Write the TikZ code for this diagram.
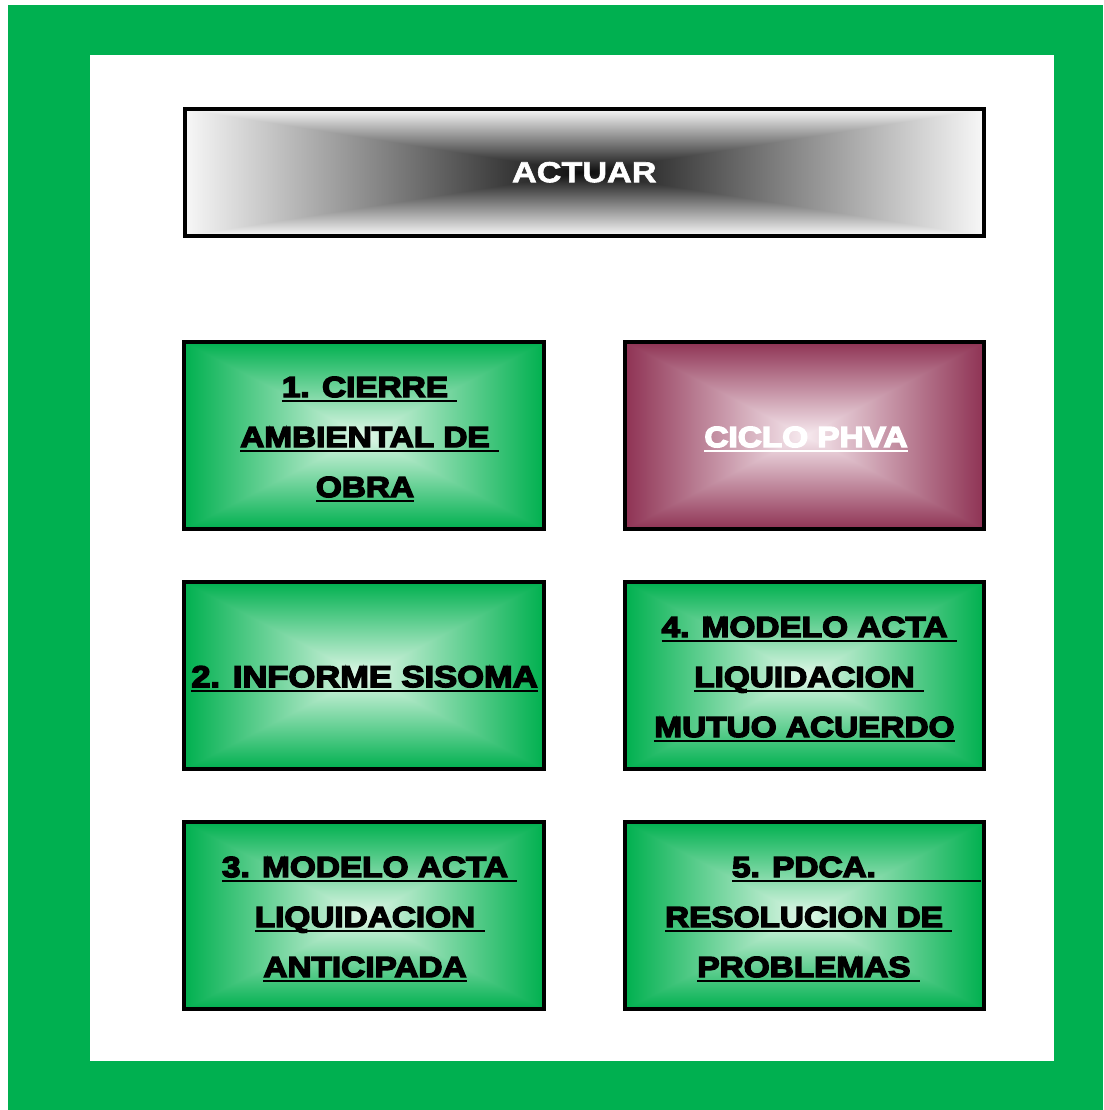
\documentclass[tikz,border=0pt]{standalone}
\usepackage{fontspec}
\newfontfamily\hfont[FakeStretch=1.18,FakeBold=2]{Liberation Sans Bold}
\newfontfamily\hbfont[FakeStretch=1.15,FakeBold=5]{Liberation Sans Bold}
\definecolor{framegreen}{RGB}{0,176,80}
\pgfdeclarefunctionalshading{greenrect}{\pgfpoint{-50bp}{-50bp}}{\pgfpoint{50bp}{50bp}}{}{
  abs exch abs 2 copy lt {exch} if pop 25 div dup 1 gt {pop 1} if
  dup -0.88 mul 0.88 add exch
  dup -0.28 mul 0.97 add exch
  -0.60 mul 0.91 add
}
\pgfdeclarefunctionalshading{maroonrect}{\pgfpoint{-50bp}{-50bp}}{\pgfpoint{50bp}{50bp}}{}{
  abs exch abs 2 copy lt {exch} if pop 25 div dup 1 gt {pop 1} if
  dup -0.41 mul 0.97 add exch
  dup -0.72 mul 0.92 add exch
  -0.61 mul 0.94 add
}
\pgfdeclarefunctionalshading{grayrect}{\pgfpoint{-50bp}{-50bp}}{\pgfpoint{50bp}{50bp}}{}{
  abs exch abs 2 copy lt {exch} if pop 25 div dup 1 gt {pop 1} if
  dup 0.92 mul 0.05 add exch
  dup 0.92 mul 0.05 add exch
  0.92 mul 0.05 add
}
\newcommand\ulin[2][0pt]{\setbox0\hbox{#2}\rlap{\rule[-5pt]{\dimexpr\wd0+#1\relax}{2pt}}\box0}
\newcommand\ulsp[1]{\ulin[\fontdimen2\font]{#1}}
\begin{document}
\begin{tikzpicture}[x=1pt,y=-1pt,
  box/.style={draw=black, line width=4pt, inner sep=0pt, minimum width=360pt, minimum height=187pt, shade},
  gbox/.style={box, shading=greenrect},
  mbox/.style={box, shading=maroonrect},
  txt/.style={font=\hbfont\fontsize{29}{35}\selectfont, inner sep=0pt, anchor=base, text=black},
  wtxt/.style={txt, text=white}]
\useasboundingbox (0,0) rectangle (1103,1110);
\fill[framegreen] (8,5) rectangle (1103,1110);
\fill[white] (90,55) rectangle (1054,1061);

\node[box, shading=grayrect, minimum width=799.5pt, minimum height=126.5pt,
  text=white, font=\hfont\fontsize{29}{35}\selectfont] (act) at (584.25,172.25) {ACTUAR};

\node[gbox] (b1) at (364,435.5) {};
\node[mbox, minimum width=359pt] (ph) at (804.5,435.5) {};
\node[gbox] (b2) at (364,675.5) {};
\node[gbox, minimum width=359pt] (b4) at (804.5,675.5) {};
\node[gbox] (b3) at (364,915.5) {};
\node[gbox, minimum width=359pt] (b5) at (804.5,915.5) {};

\node[txt] (b1a) at (365,397) {\ulsp{1. CIERRE}};
\node[txt] (b1b) at (365,447) {\ulsp{AMBIENTAL DE}};
\node[txt] (b1c) at (365,497) {\ulin{OBRA}};

\node[wtxt] (pha) at (806,447) {\ulin{CICLO PHVA}};

\node[txt, font=\hbfont\fontsize{30}{36}\selectfont] (b2a) at (364.5,687) {\ulin{2. INFORME SISOMA}};

\node[txt] (b4a) at (804.5,637) {\ulsp{4. MODELO ACTA}};
\node[txt] (b4b) at (804.5,687) {\ulsp{LIQUIDACION}};
\node[txt] (b4c) at (804.5,737) {\ulin{MUTUO ACUERDO}};

\node[txt] (b3a) at (365,877) {\ulsp{3. MODELO ACTA}};
\node[txt] (b3b) at (365,927) {\ulsp{LIQUIDACION}};
\node[txt] (b3c) at (365,977) {\ulin{ANTICIPADA}};

\node[txt] (b5a) at (804,877) {\ulin[105pt]{5. PDCA.}};
\node[txt] (b5b) at (804,927) {\ulsp{RESOLUCION DE}};
\node[txt] (b5c) at (804,977) {\ulsp{PROBLEMAS}};
\end{tikzpicture}
\end{document}
